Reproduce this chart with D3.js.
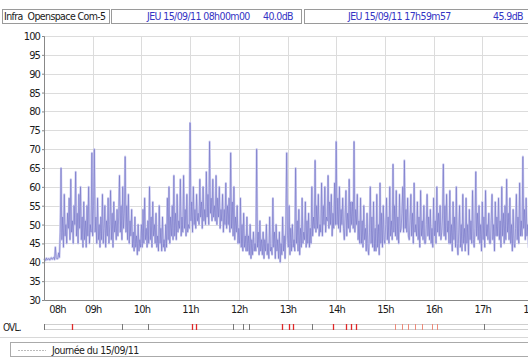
<!DOCTYPE html>
<html>
<head>
<meta charset="utf-8">
<script src="https://cdn.jsdelivr.net/npm/d3@7"></script>
<style>
  body { margin: 0; background: #fff; }
  svg { display: block; }
</style>
</head>
<body>
<div id="chart"></div>
<script>
// sound level, one value per minute from 08h00 to 17h59 (dB), 10 values per row
const startHour = 8
const stepMinutes = 1
const levelDb = [
  40.6, 40.9, 40.5, 41.1, 40.7, 40.8, 41.0, 40.6, 40.9, 41.2,
  40.8, 41.0, 41.3, 40.7, 44.0, 41.2, 40.9, 41.0, 42.5, 41.3,
  48, 65, 46, 52, 44, 58, 47, 50, 45, 53,
  49, 57, 46, 62, 48, 51, 45, 55, 50, 64,
  47, 53, 45, 58, 49, 60, 46, 52, 44, 56,
  46, 51, 44, 55, 47, 60, 45, 50, 48, 69,
  47, 55, 70, 48, 52, 45, 57, 46, 50, 44,
  52, 46, 58, 45, 49, 55, 44, 51, 47, 57,
  45, 50, 59, 46, 53, 44, 56, 48, 51, 46,
  54, 47, 52, 63, 48, 55, 46, 60, 49, 53,
  68, 48, 55, 46, 58, 45, 51, 47, 54, 44,
  48, 43, 52, 44, 47, 42, 50, 43, 46, 44,
  50, 44, 54, 45, 57, 46, 49, 44, 51, 45,
  60, 46, 52, 44, 56, 47, 50, 45, 53, 44,
  47, 43, 55, 45, 49, 43, 52, 44, 46, 43,
  50, 44, 57, 46, 60, 45, 52, 47, 55, 46,
  63, 47, 53, 46, 58, 48, 51, 49, 62, 47,
  52, 48, 63, 49, 54, 47, 58, 48, 50, 49,
  77, 51, 56, 48, 60, 50, 54, 49, 58, 51,
  53, 50, 62, 52, 56, 49, 60, 51, 54, 50,
  64, 52, 58, 50, 72, 53, 57, 51, 62, 52,
  55, 51, 63, 50, 57, 52, 60, 49, 54, 51,
  58, 48, 54, 50, 61, 49, 55, 50, 57, 48,
  69, 49, 56, 47, 60, 46, 52, 48, 55, 45,
  49, 45, 57, 44, 50, 43, 53, 44, 47, 43,
  52, 43, 47, 42, 50, 41, 46, 42, 48, 43,
  45, 43, 70, 44, 48, 42, 51, 43, 46, 42,
  48, 41, 46, 43, 50, 42, 45, 41, 52, 43,
  44, 42, 57, 44, 48, 41, 50, 43, 46, 41,
  48, 40, 45, 42, 52, 43, 47, 41, 50, 69,
  47, 44, 55, 42, 49, 43, 50, 44, 46, 43,
  65, 45, 51, 43, 54, 42, 49, 44, 57, 45,
  48, 46, 56, 44, 51, 45, 53, 44, 49, 45,
  60, 47, 52, 49, 67, 48, 55, 49, 58, 47,
  50, 48, 61, 47, 55, 50, 60, 48, 52, 51,
  63, 49, 56, 50, 58, 47, 53, 49, 61, 50,
  72, 50, 57, 49, 60, 48, 54, 50, 57, 49,
  46, 52, 59, 47, 53, 49, 62, 48, 56, 50,
  56, 49, 72, 48, 54, 50, 58, 46, 51, 45,
  57, 45, 51, 44, 55, 46, 49, 43, 53, 44,
  42, 48, 60, 45, 52, 44, 56, 43, 49, 43,
  58, 44, 50, 42, 61, 45, 53, 44, 55, 46,
  45, 50, 57, 46, 52, 45, 60, 47, 51, 46,
  66, 48, 55, 47, 59, 46, 52, 45, 58, 48,
  49, 53, 60, 48, 67, 49, 54, 48, 57, 47,
  46, 51, 58, 47, 53, 45, 61, 48, 50, 47,
  56, 46, 52, 44, 59, 47, 51, 46, 55, 45,
  45, 50, 58, 47, 52, 46, 54, 45, 49, 44,
  57, 47, 51, 45, 60, 48, 53, 47, 55, 46,
  48, 52, 66, 47, 55, 46, 58, 48, 51, 45,
  59, 45, 50, 43, 56, 46, 52, 44, 60, 45,
  42, 48, 55, 44, 50, 43, 58, 45, 49, 43,
  57, 45, 50, 42, 54, 46, 51, 45, 59, 46,
  44, 49, 64, 47, 53, 46, 55, 45, 50, 43,
  56, 46, 52, 44, 59, 47, 50, 46, 53, 45,
  45, 51, 58, 46, 50, 43, 56, 47, 52, 47,
  57, 46, 51, 44, 60, 47, 53, 45, 55, 46,
  62, 48, 53, 46, 57, 45, 50, 43, 54, 45,
  44, 49, 58, 46, 52, 45, 61, 47, 51, 47,
  68, 49, 54, 46, 57, 47, 50, 44, 48, 45.9
]

const yTicks = [30, 35, 40, 45, 50, 55, 60, 65, 70, 75, 80, 85, 90, 95, 100]
const hourTicks = [8, 9, 10, 11, 12, 13, 14, 15, 16, 17, 18]
const hourLabels = ['08h', '09h', '10h', '11h', '12h', '13h', '14h', '15h', '16h', '17h', '18h']

// OVL events (hour of day) and their kind: r = overload, p = light, g = marker
const ovlTimes = [8.57, 9.60, 10.14, 11.04, 11.12, 11.88, 12.09, 12.21, 12.89, 13.03, 13.11, 13.50,
  13.93, 14.20, 14.30, 14.41, 15.21, 15.35, 15.47, 15.62, 15.76, 15.97, 16.07, 17.03]
const ovlKinds = ['r', 'g', 'g', 'r', 'r', 'g', 'g', 'g', 'r', 'r', 'r', 'g',
  'r', 'r', 'r', 'r', 'p', 'p', 'p', 'p', 'p', 'p', 'p', 'g']

const headerName = 'Infra  Openspace Com-5'
const headerStart = ['JEU 15/09/11 08h00m00', '40.0dB']
const headerEnd = ['JEU 15/09/11 17h59m57', '45.9dB']
const dayLabel = 'Journée du 15/09/11'

const width = 528
const height = 358
const plot = { left: 44, right: 531, top: 36, bottom: 300 }
const font = "'Liberation Sans Narrow', 'DejaVu Sans Condensed', 'Liberation Sans', sans-serif"

const svg = d3.select('#chart').append('svg')
  .attr('width', width)
  .attr('height', height)
  .attr('font-family', font)

const x = d3.scaleLinear().domain([8, 18]).range([plot.left, plot.right])
const y = d3.scaleLinear().domain([30, 100]).range([plot.bottom, plot.top])

// header boxes
const headerBoxes = [[2, 109], [111, 301], [304, 560]]
svg.append('g').selectAll('rect')
  .data(headerBoxes)
  .enter()
  .append('rect')
  .attr('x', d => d[0] + 0.5)
  .attr('y', 9.5)
  .attr('width', d => d[1] - d[0])
  .attr('height', 14)
  .attr('fill', 'none')
  .attr('stroke', '#9a9a9a')

const headerTexts = [
  { x: 4, text: headerName, color: '#1a1a1a' },
  { x: 147, text: headerStart[0], color: '#3434c4' },
  { x: 263, text: headerStart[1], color: '#3434c4' },
  { x: 348, text: headerEnd[0], color: '#3434c4' },
  { x: 493, text: headerEnd[1], color: '#3434c4' }
]
svg.append('g').selectAll('text')
  .data(headerTexts)
  .enter()
  .append('text')
  .attr('x', d => d.x)
  .attr('y', 20)
  .attr('font-size', 10.5)
  .attr('letter-spacing', -0.6)
  .attr('fill', d => d.color)
  .style('white-space', 'pre')
  .text(d => d.text)

// grid
const grid = svg.append('g')
grid.selectAll('line.h')
  .data(yTicks.slice(1))
  .enter()
  .append('line')
  .attr('class', 'h')
  .attr('x1', plot.left)
  .attr('x2', width)
  .attr('y1', d => Math.round(y(d)) + 0.5)
  .attr('y2', d => Math.round(y(d)) + 0.5)
  .attr('stroke', '#dcdcdc')
grid.selectAll('line.v')
  .data(hourTicks.slice(1))
  .enter()
  .append('line')
  .attr('class', 'v')
  .attr('x1', d => Math.round(x(d)) + 0.5)
  .attr('x2', d => Math.round(x(d)) + 0.5)
  .attr('y1', plot.top)
  .attr('y2', plot.bottom)
  .attr('stroke', '#dcdcdc')

// sound level trace: light haze under a thin line
const line = d3.line()
  .x((d, i) => x(startHour + i * stepMinutes / 60))
  .y(d => y(d))
svg.append('path')
  .datum(levelDb)
  .attr('d', line)
  .attr('fill', 'none')
  .attr('stroke', '#cdcdf0')
  .attr('stroke-width', 2.2)
  .attr('stroke-linejoin', 'round')
svg.append('path')
  .datum(levelDb)
  .attr('d', line)
  .attr('fill', 'none')
  .attr('stroke', '#7272c6')
  .attr('stroke-width', 0.6)
  .attr('stroke-linejoin', 'round')

// axes
const yAxis = svg.append('g')
  .attr('transform', `translate(${plot.left},0)`)
  .call(d3.axisLeft(y).tickValues(yTicks).tickSize(2).tickPadding(2))
yAxis.select('.domain').attr('stroke', '#888')
yAxis.selectAll('.tick line').attr('stroke', '#888')
yAxis.selectAll('text')
  .attr('font-family', font)
  .attr('font-size', 11)
  .attr('letter-spacing', -0.9)
  .attr('fill', '#1c1c1c')

const xAxis = svg.append('g')
  .attr('transform', `translate(0,${plot.bottom})`)
  .call(d3.axisBottom(x).tickValues(hourTicks).tickSize(0).tickPadding(5)
    .tickFormat((d, i) => hourLabels[i]))
xAxis.select('.domain').attr('stroke', '#888')
xAxis.selectAll('text')
  .attr('font-family', font)
  .attr('font-size', 11)
  .attr('letter-spacing', -0.8)
  .attr('fill', '#1c1c1c')
xAxis.selectAll('.tick').filter(d => d === 8).select('text').attr('dx', 13)

// OVL band
const ovlY = 327
svg.append('text')
  .attr('x', 3)
  .attr('y', ovlY + 4)
  .attr('font-size', 10)
  .attr('letter-spacing', -0.8)
  .attr('fill', '#222')
  .text('OVL.')
svg.append('rect')
  .attr('x', plot.left + 0.5)
  .attr('y', ovlY - 2.5)
  .attr('width', width)
  .attr('height', 5)
  .attr('fill', 'none')
  .attr('stroke', '#cfcfcf')
svg.append('line')
  .attr('x1', plot.left + 0.5).attr('x2', plot.left + 0.5)
  .attr('y1', ovlY - 3).attr('y2', ovlY + 3)
  .attr('stroke', '#777')
const ovlColor = { r: '#e02828', p: '#ec8a7a', g: '#777' }
svg.append('g').selectAll('line')
  .data(ovlTimes)
  .enter()
  .append('line')
  .attr('x1', d => Math.round(x(d)) + 0.5)
  .attr('x2', d => Math.round(x(d)) + 0.5)
  .attr('y1', ovlY - 3)
  .attr('y2', ovlY + 3)
  .attr('stroke', (d, i) => ovlColor[ovlKinds[i]])
  .attr('stroke-width', (d, i) => ovlKinds[i] === 'r' ? 1.3 : 1)

// footer
svg.append('line')
  .attr('x1', 0).attr('x2', width)
  .attr('y1', 337.5).attr('y2', 337.5)
  .attr('stroke', '#d8d8d8')
svg.append('rect')
  .attr('x', 10.5)
  .attr('y', 342.5)
  .attr('width', width)
  .attr('height', 14)
  .attr('fill', 'none')
  .attr('stroke', '#aaa')
svg.append('line')
  .attr('x1', 18).attr('x2', 46)
  .attr('y1', 350.5).attr('y2', 350.5)
  .attr('stroke', '#bbb')
  .attr('stroke-dasharray', '2,1')
svg.append('text')
  .attr('x', 52)
  .attr('y', 354)
  .attr('font-size', 10.5)
  .attr('letter-spacing', -0.5)
  .attr('fill', '#222')
  .text(dayLabel)
</script>
</body>
</html>
